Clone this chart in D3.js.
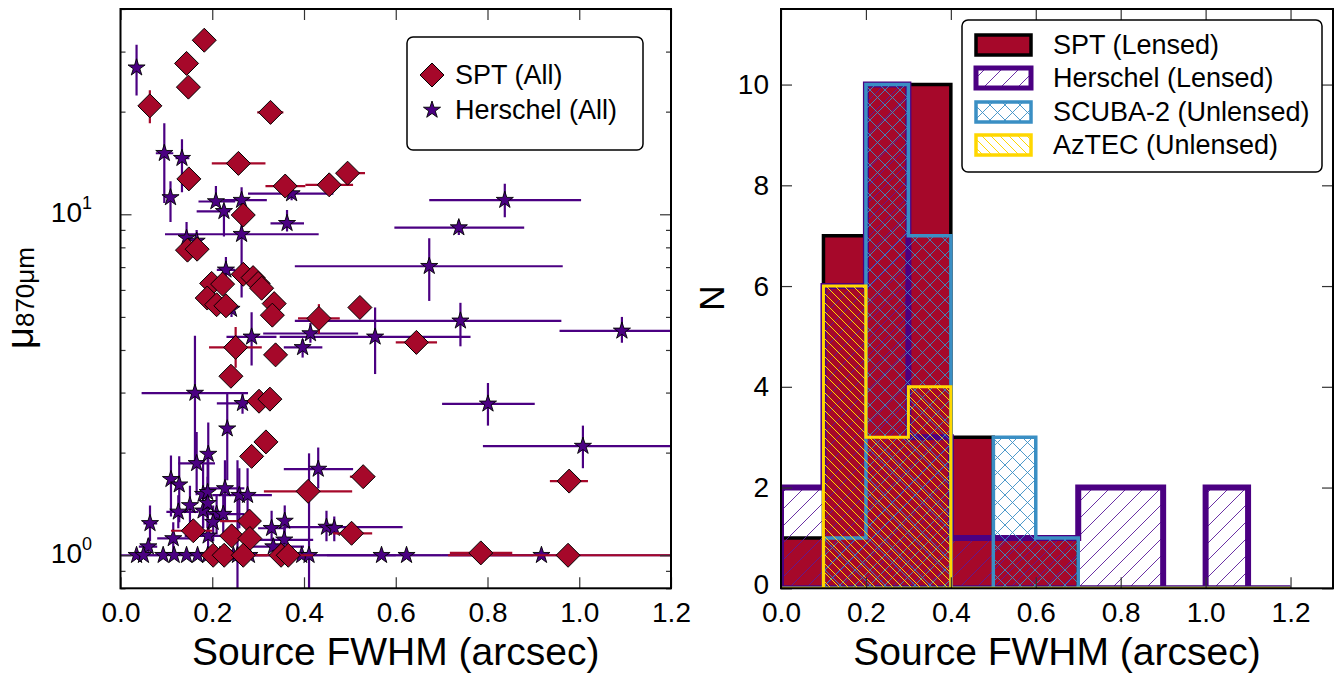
<!DOCTYPE html>
<html><head><meta charset="utf-8">
<script src="https://cdn.jsdelivr.net/npm/d3@7"></script>
<style>
body{margin:0;background:#fff}
svg{display:block}
text{font-family:"Liberation Sans",Arial,Helvetica,sans-serif;fill:#000}
</style>
</head><body>
<svg id="c" width="1334" height="673"></svg>
<script>
// ---------------- DATA ----------------
// Histogram bins (arcsec) and counts
const binEdges = [0,0.1,0.2,0.3,0.4,0.5,0.6,0.7,0.8,0.9,1.0,1.1,1.2];
const sptLensed      = [1,7,10,10,3,1,1,0,0,0,0,0];
const herschelLensed = [2,6,10,3,1,1,1,2,2,0,2,0];
const scuba2Unlensed = [0,1,10,7,0,3,1,0,0,0,0,0];
const aztecUnlensed  = [0,6,3,4,0,0,0,0,0,0,0,0];

const xTickValues = [0,0.2,0.4,0.6,0.8,1.0,1.2];
const histYTicks = [0,2,4,6,8,10];
const muMajorTicks = [1,10];
const muMinorTicks = [0.8,0.9,2,3,4,5,6,7,8,9,20,30,40];

const legendLeft = ["SPT (All)","Herschel (All)"];
const legendRight = ["SPT (Lensed)","Herschel (Lensed)","SCUBA-2 (Unlensed)","AzTEC (Unlensed)"];

// Scatter: [FWHM, mu, FWHM_low, FWHM_high, mu_low, mu_high]  (null = no error bar)
const herschelAll = [
 [0.035,26.9,null,null,22.3,31.4],
 [0.0955,15.1,0.077,0.115,10.8,18.5],
 [0.134,14.6,0.12,0.15,11.6,16.6],
 [0.109,11.2,null,null,9.5,12.5],
 [0.208,10.9,0.17,0.25,10.6,12.1],
 [0.264,11.0,0.223,0.319,10.0,12.0],
 [0.373,11.5,0.278,0.464,11.0,12.0],
 [0.2255,10.2,0.166,0.239,8.6,10.7],
 [0.363,9.41,0.327,0.40,8.9,10.3],
 [0.264,8.74,0.097,0.432,5.7,9.5],
 [0.144,8.51,null,null,8.0,9.5],
 [0.166,8.35,null,null,7.8,9.0],
 [0.2298,6.87,0.21,0.25,6.3,7.5],
 [0.673,7.04,0.38,0.964,5.57,8.5],
 [0.7375,9.14,0.597,0.88,8.7,9.6],
 [0.8377,11.0,0.673,1.004,9.8,12.3],
 [0.741,4.87,0.38,0.961,4.1,5.5],
 [0.555,4.37,0.347,0.763,3.4,5.33],
 [1.093,4.55,0.957,1.25,4.2,5.0],
 [0.414,4.47,0.311,0.518,4.2,4.8],
 [0.397,4.07,0.356,0.44,3.8,4.3],
 [0.2858,4.37,0.231,0.34,3.6,5.16],
 [0.1623,2.99,0.046,0.278,1.81,4.4],
 [0.266,2.79,0.21,0.278,2.6,3.0],
 [0.242,5.27,null,null,5.0,5.6],
 [0.2327,2.35,null,null,1.66,2.98],
 [0.1913,1.98,null,null,1.6,2.45],
 [0.166,1.86,0.126,0.206,1.5,2.3],
 [0.431,1.79,0.356,0.507,1.57,2.07],
 [0.11,1.67,null,null,1.3,1.96],
 [0.128,1.61,null,null,1.25,1.95],
 [0.801,2.78,0.701,0.903,2.4,3.2],
 [1.008,2.09,0.79,1.25,1.8,2.4],
 [0.18,1.51,null,null,1.2,1.9],
 [0.19,1.53,null,null,1.2,1.95],
 [0.2277,1.57,0.18,0.27,1.3,1.9],
 [0.259,1.50,0.2,0.33,1.2,1.8],
 [0.277,1.50,null,null,1.2,1.8],
 [0.1514,1.40,null,null,1.2,1.6],
 [0.126,1.34,0.1,0.17,1.2,1.5],
 [0.18,1.35,null,null,1.2,1.5],
 [0.19,1.42,null,null,1.2,1.7],
 [0.2095,1.32,null,null,1.15,1.5],
 [0.224,1.32,0.18,0.27,1.15,1.5],
 [0.0643,1.24,0.05,0.08,1.1,1.4],
 [0.202,1.25,null,null,1.1,1.4],
 [0.115,1.12,0.08,0.16,1.0,1.25],
 [0.0606,1.06,0.04,0.08,1.0,1.12],
 [0.191,1.14,0.14,0.25,1.05,1.25],
 [0.3294,1.20,0.30,0.36,1.1,1.35],
 [0.358,1.26,null,null,1.15,1.4],
 [0.357,1.11,0.30,0.42,1.0,1.2],
 [0.449,1.21,0.355,0.615,1.1,1.35],
 [0.466,1.20,null,null,1.1,1.3],
 [0.333,1.06,0.27,0.40,1.0,1.12],
 [0.035,1.0,0.0,0.1,null,null],
 [0.05,1.0,null,null,null,null],
 [0.093,1.0,null,null,null,null],
 [0.117,1.0,null,null,null,null],
 [0.144,1.0,0.03,0.3,null,null],
 [0.168,1.0,null,null,null,null],
 [0.19,1.0,null,null,null,null],
 [0.217,1.0,null,null,null,null],
 [0.246,1.0,null,null,null,null],
 [0.255,1.0,null,null,0.7,1.9],
 [0.281,1.0,0.15,0.6,null,null],
 [0.395,1.0,null,null,null,null],
 [0.411,1.0,0.25,0.70,0.7,1.99],
 [0.569,1.0,null,null,null,null],
 [0.6235,1.0,0.45,0.9,null,null],
 [0.9176,1.0,0.7,1.25,null,null]
];

const sptAll = [
 [0.1826,32.4,null,null,null,null],
 [0.144,27.7,null,null,null,null],
 [0.148,23.6,null,null,null,null],
 [0.064,20.8,null,null,18.5,23.1],
 [0.327,19.9,0.298,0.355,null,null],
 [0.257,14.1,0.199,0.316,null,null],
 [0.149,12.7,null,null,null,null],
 [0.359,12.1,0.316,0.403,null,null],
 [0.455,12.2,0.403,0.507,null,null],
 [0.495,13.2,0.471,0.533,null,null],
 [0.2676,9.95,null,null,null,null],
 [0.146,7.85,null,null,7.5,8.2],
 [0.167,7.9,null,null,null,null],
 [0.2676,6.67,null,null,null,null],
 [0.289,6.52,null,null,null,null],
 [0.300,6.27,null,null,null,null],
 [0.3076,6.07,null,null,null,null],
 [0.1987,6.27,null,null,null,null],
 [0.2226,6.24,null,null,null,null],
 [0.189,5.68,null,null,null,null],
 [0.2095,5.43,null,null,null,null],
 [0.2298,5.39,null,null,null,null],
 [0.335,5.47,null,null,null,null],
 [0.331,5.06,null,null,null,null],
 [0.4325,4.95,0.387,0.478,4.46,5.45],
 [0.5218,5.33,null,null,null,null],
 [0.645,4.21,0.60,0.69,null,null],
 [0.251,4.07,0.193,0.308,3.55,4.67],
 [0.338,3.87,null,null,null,null],
 [0.2407,3.35,null,null,null,null],
 [0.302,2.83,null,null,null,null],
 [0.3257,2.87,null,null,null,null],
 [0.317,2.15,null,null,null,null],
 [0.2858,1.95,null,null,null,null],
 [0.529,1.70,0.50,0.554,null,null],
 [0.409,1.54,0.3126,0.505,null,null],
 [0.978,1.65,0.936,1.019,null,null],
 [0.1587,1.18,0.11,0.2,null,null],
 [0.281,1.26,0.217,0.30,null,null],
 [0.2423,1.14,null,null,null,null],
 [0.282,1.12,null,null,null,null],
 [0.5037,1.16,0.4636,0.5486,null,null],
 [0.202,1.0,null,null,null,null],
 [0.226,1.0,null,null,null,null],
 [0.2676,1.0,0.22,0.32,null,null],
 [0.35,1.0,null,null,null,null],
 [0.3656,1.0,0.3,0.42,null,null],
 [0.7854,1.016,0.718,0.854,null,null],
 [0.9756,1.0,0.714,1.25,null,null]
];

// ---------------- STYLE ----------------
const C_SPT = "#a6082a", C_HER = "#4b0082", C_SCU = "#3a8fc4", C_AZ = "#ffd700";
const FONT = '"Liberation Sans",Arial,Helvetica,sans-serif';

const svg = d3.select("#c");
const defs = svg.append("defs");

function hatch(id, color, period, dirs, sw){
  const p = defs.append("pattern").attr("id",id).attr("patternUnits","userSpaceOnUse")
    .attr("width",period).attr("height",period);
  const P = period;
  if (dirs.includes("/")) p.append("path").attr("d",`M${-1},${1} l2,-2 M0,${P} l${P},${-P} M${P-1},${P+1} l2,-2`)
      .attr("stroke",color).attr("stroke-width",sw).attr("fill","none");
  if (dirs.includes("\\")) p.append("path").attr("d",`M${-1},${P-1} l2,2 M0,0 l${P},${P} M${P-1},-1 l2,2`)
      .attr("stroke",color).attr("stroke-width",sw).attr("fill","none");
}
hatch("hHer", "#5a1a9a", 17, "/", 0.9);
hatch("hScu", C_SCU, 15, "/\\", 0.9);
hatch("hAz", C_AZ, 9, "\\", 1);

// ---------------- LEFT PANEL ----------------
const L = {x0:120.5, x1:671, y0:9, y1:588.3};
const xL = d3.scaleLinear().domain([0,1.2]).range([L.x0,L.x1]);
const yL = d3.scaleLog().domain([0.8,40]).range([L.y1,L.y0]);

defs.append("clipPath").attr("id","clipL").append("rect")
  .attr("x",L.x0).attr("y",L.y0).attr("width",L.x1-L.x0).attr("height",L.y1-L.y0);

const gL = svg.append("g").attr("clip-path","url(#clipL)");

function starPath(R){
  const r = R*0.381966, pts=[];
  for (let k=0;k<10;k++){
    const a = -Math.PI/2 + k*Math.PI/5, rr = k%2===0?R:r;
    pts.push([rr*Math.cos(a), rr*Math.sin(a)]);
  }
  return "M"+pts.map(p=>p[0].toFixed(2)+","+p[1].toFixed(2)).join("L")+"Z";
}
function diamondPath(h){ return `M0,${-h}L${h},0L0,${h}L${-h},0Z`; }

function drawErr(g, data, color){
  const e = g.append("g").attr("stroke",color).attr("stroke-width",2.2).attr("fill","none");
  data.forEach(d=>{
    if (d[2]!==null) e.append("line").attr("x1",xL(d[2])).attr("x2",xL(d[3])).attr("y1",yL(d[1])).attr("y2",yL(d[1]));
    if (d[4]!==null) e.append("line").attr("x1",xL(d[0])).attr("x2",xL(d[0])).attr("y1",yL(Math.max(d[4],0.7))).attr("y2",yL(d[5]));
  });
}
const STAR_R = 9;
drawErr(gL, herschelAll, C_HER);
gL.append("g").selectAll("path").data(herschelAll).join("path")
  .attr("d",starPath(STAR_R)).attr("transform",d=>`translate(${xL(d[0])},${yL(d[1])})`)
  .attr("fill",C_HER).attr("stroke","#000").attr("stroke-width",0.9);
drawErr(gL, sptAll, C_SPT);
gL.append("g").selectAll("path").data(sptAll).join("path")
  .attr("d",diamondPath(12)).attr("transform",d=>`translate(${xL(d[0])},${yL(d[1])})`)
  .attr("fill",C_SPT).attr("stroke","#000").attr("stroke-width",1);

// axes left
const tickCol = "#333";
function styleAxis(g){ g.select(".domain").remove(); g.selectAll(".tick line").attr("stroke",tickCol).attr("stroke-width",1.2);
  g.selectAll("text").attr("font-size",28).attr("font-family",FONT).attr("fill","#000"); }

svg.append("g").attr("transform",`translate(0,${L.y1})`)
  .call(d3.axisBottom(xL).tickValues(xTickValues).tickFormat(d3.format(".1f")).tickSize(-11).tickPadding(14)).call(styleAxis);
svg.append("g").attr("transform",`translate(0,${L.y0})`)
  .call(d3.axisTop(xL).tickValues(xTickValues).tickFormat("").tickSize(-11)).call(styleAxis);
[[L.x0, d3.axisLeft],[L.x1, d3.axisRight]].forEach(([xx,ax])=>{
  svg.append("g").attr("transform",`translate(${xx},0)`)
    .call(ax(yL).tickValues(muMajorTicks).tickFormat("").tickSize(-11)).call(styleAxis);
  svg.append("g").attr("transform",`translate(${xx},0)`)
    .call(ax(yL).tickValues(muMinorTicks).tickFormat("").tickSize(-5)).call(styleAxis);
});
// log tick labels 10^0, 10^1
muMajorTicks.forEach(v=>{
  const t = svg.append("text").attr("x",92).attr("y",yL(v)+8).attr("text-anchor","end").attr("font-size",28);
  t.append("tspan").text("10");
  t.append("tspan").attr("font-size",18).attr("dy",-13).text(String(Math.round(Math.log10(v))));
});
svg.append("rect").attr("x",L.x0).attr("y",L.y0).attr("width",L.x1-L.x0).attr("height",L.y1-L.y0)
  .attr("fill","none").attr("stroke","#000").attr("stroke-width",2);

// axis labels left
svg.append("text").attr("x",(L.x0+L.x1)/2).attr("y",665).attr("text-anchor","middle").attr("font-size",39).text("Source FWHM (arcsec)");
const yl = svg.append("text").attr("transform","translate(33,298) rotate(-90)").attr("text-anchor","middle");
yl.append("tspan").attr("font-size",38).text("μ");
yl.append("tspan").attr("font-size",26).attr("dy",1).text("870μm");

// legend left
svg.append("rect").attr("x",407).attr("y",37).attr("width",236).attr("height",113).attr("rx",6)
  .attr("fill","#fff").attr("stroke","#000").attr("stroke-width",1.5);
svg.append("path").attr("d",diamondPath(12)).attr("transform","translate(432,75)").attr("fill",C_SPT).attr("stroke","#000");
svg.append("path").attr("d",starPath(STAR_R)).attr("transform","translate(432,110)").attr("fill",C_HER).attr("stroke","#000").attr("stroke-width",0.9);
legendLeft.forEach((s,i)=> svg.append("text").attr("x",455).attr("y",[84,119][i]).attr("font-size",27).text(s));

// ---------------- RIGHT PANEL ----------------
const R = {x0:781, x1:1333, y0:9, y1:588.3};
const xR = d3.scaleLinear().domain([0,1.3]).range([R.x0,R.x1]);
const yR = d3.scaleLinear().domain([0,11.5]).range([R.y1,R.y0]);
defs.append("clipPath").attr("id","clipR").append("rect")
  .attr("x",R.x0).attr("y",R.y0).attr("width",R.x1-R.x0).attr("height",R.y1-R.y0);
const gR = svg.append("g").attr("clip-path","url(#clipR)");

function stepPts(counts){
  const pts=[[binEdges[0],0]];
  counts.forEach((c,i)=>{ pts.push([binEdges[i],c]); pts.push([binEdges[i+1],c]); });
  pts.push([binEdges[binEdges.length-1],0]);
  return pts;
}
const stepLine = d3.line().x(d=>xR(d[0])).y(d=>yR(d[1]));
function histo(counts, fill, stroke, sw){
  const d = stepLine(stepPts(counts))+"Z";
  gR.append("path").attr("d",d).attr("fill",fill).attr("stroke",stroke).attr("stroke-width",sw).attr("stroke-linejoin","miter");
}
histo(sptLensed, C_SPT, "#000", 3.5);
histo(herschelLensed, "url(#hHer)", C_HER, 6);
histo(scuba2Unlensed, "url(#hScu)", C_SCU, 3.5);
histo(aztecUnlensed, "url(#hAz)", C_AZ, 3);

svg.append("g").attr("transform",`translate(0,${R.y1})`)
  .call(d3.axisBottom(xR).tickValues(xTickValues).tickFormat(d3.format(".1f")).tickSize(-11).tickPadding(14)).call(styleAxis);
svg.append("g").attr("transform",`translate(0,${R.y0})`)
  .call(d3.axisTop(xR).tickValues(xTickValues).tickFormat("").tickSize(-11)).call(styleAxis);
const yAxR = svg.append("g").attr("transform",`translate(${R.x0},0)`)
  .call(d3.axisLeft(yR).tickValues(histYTicks).tickSize(-11).tickPadding(12)).call(styleAxis);
yAxR.selectAll(".tick text").filter(d=>d===0).attr("dy","0.2em");
svg.append("g").attr("transform",`translate(${R.x1},0)`)
  .call(d3.axisRight(yR).tickValues(histYTicks).tickFormat("").tickSize(-11)).call(styleAxis);
svg.append("rect").attr("x",R.x0).attr("y",R.y0).attr("width",R.x1-R.x0).attr("height",R.y1-R.y0)
  .attr("fill","none").attr("stroke","#000").attr("stroke-width",2);

svg.append("text").attr("x",(R.x0+R.x1)/2).attr("y",665).attr("text-anchor","middle").attr("font-size",39).text("Source FWHM (arcsec)");
svg.append("text").attr("transform","translate(724,298) rotate(-90)").attr("text-anchor","middle").attr("font-size",35).text("N");

// legend right
svg.append("rect").attr("x",962).attr("y",20).attr("width",360).attr("height",152).attr("rx",6)
  .attr("fill","#fff").attr("stroke","#000").attr("stroke-width",1.5);
const lgStyles = [[C_SPT,"#000",3.5],["url(#hHer)",C_HER,5],["url(#hScu)",C_SCU,3.5],["url(#hAz)",C_AZ,3.5]];
const lgCenters = [45,78,112,145];
legendRight.forEach((s,i)=>{
  svg.append("rect").attr("x",976).attr("y",lgCenters[i]-10).attr("width",55).attr("height",20)
    .attr("fill",lgStyles[i][0]).attr("stroke",lgStyles[i][1]).attr("stroke-width",lgStyles[i][2]);
  svg.append("text").attr("x",1053).attr("y",lgCenters[i]+9).attr("font-size",27).text(s);
});
</script>
</body></html>
